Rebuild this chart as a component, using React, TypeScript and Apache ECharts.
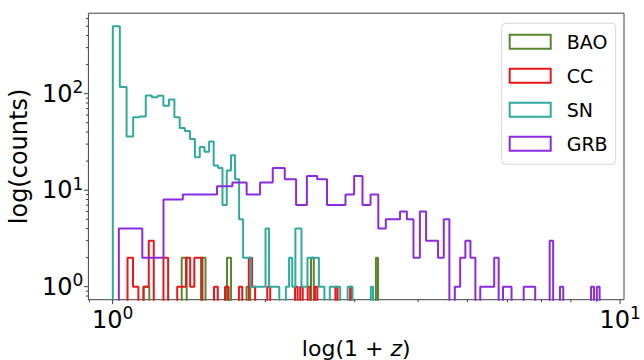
import React, { useEffect, useRef } from 'react';
import * as echarts from 'echarts';

const FONT = "'DejaVu Sans', sans-serif";

const SERIES_NAMES = ['BAO', 'CC', 'SN', 'GRB'];
const SERIES_COLORS = ['#5a8530', '#e8161b', '#2eaa9e', '#8a2be2'];

// histogram ranges in (1+z): first and last bin edge, 70 equal bins each
const BAO_RANGE = [1.15, 3.334];
const CC_RANGE = [1.07, 2.965];
const SN_RANGE = [1.001, 3.26];
const GRB_RANGE = [1.0287, 9.114];

const BAO_COUNTS = [
  1, 0, 0, 0, 0, 0, 0, 2, 0, 0,
  0, 2, 0, 0, 0, 0, 0, 2, 0, 0,
  0, 0, 1, 0, 0, 0, 0, 0, 0, 0,
  0, 0, 0, 0, 0, 0, 0, 0, 0, 0,
  0, 0, 2, 0, 0, 0, 0, 0, 0, 0,
  0, 0, 0, 0, 0, 0, 0, 0, 0, 0,
  0, 0, 0, 0, 0, 0, 0, 0, 0, 2,
];

const CC_COUNTS = [
  2, 1, 0, 1, 3, 0, 0, 2, 0, 0,
  1, 1, 2, 1, 2, 2, 0, 0, 0, 1,
  0, 0, 1, 0, 0, 0, 1, 0, 0, 2,
  1, 0, 0, 0, 0, 1, 0, 0, 0, 0,
  0, 0, 0, 0, 0, 1, 0, 1, 0, 0,
  1, 0, 0, 1, 0, 0, 0, 0, 0, 0,
  0, 0, 1, 0, 0, 0, 0, 0, 0, 1,
];

const SN_COUNTS = [
  500, 117, 36, 57, 58, 96, 92, 95, 75, 87,
  57, 44, 41, 34, 22, 28, 25, 32, 18, 17,
  7, 16, 23, 13, 5, 2, 2, 1, 1, 1,
  1, 4, 1, 1, 1, 0, 0, 1, 2, 1,
  4, 4, 1, 1, 2, 2, 2, 2, 1, 1,
  0, 0, 1, 1, 1, 1, 0, 0, 0, 1,
  1, 0, 0, 0, 0, 0, 0, 0, 0, 1,
];

const GRB_COUNTS = [
  4, 2, 8, 9, 9, 11, 12, 9, 12, 17,
  13, 7, 14, 13, 7, 7, 9, 14, 7, 9,
  4, 5, 5, 6, 5, 2, 6, 3, 3, 2,
  5, 0, 1, 2, 3, 2, 0, 1, 1, 1,
  2, 0, 1, 1, 0, 0, 0, 1, 1, 1,
  0, 0, 0, 0, 3, 0, 0, 1, 0, 0,
  0, 0, 0, 0, 0, 0, 0, 1, 0, 1,
];

const X_MAJOR = [1, 10];
const X_MINOR = [0.9, 2, 3, 4, 5, 6, 7, 8, 9];
const Y_MAJOR = [1, 10, 100];
const Y_MINOR = [0.8, 0.9, 2, 3, 4, 5, 6, 7, 8, 9, 20, 30, 40, 50, 60, 70, 80, 90, 200, 300, 400, 500, 600];

const X_MIN = 0.896;
const X_MAX = 10.18;
const Y_MIN = 0.733;
const Y_MAX = 682;
const FLOOR = 0.05;

function stepPoints(range: number[], counts: number[]) {
  const n = counts.length;
  const w = (range[1] - range[0]) / n;
  const edge = (i: number) => range[0] + w * i;
  const pts: number[][] = [[edge(0), FLOOR]];
  counts.forEach((c, i) => {
    const y = c > 0 ? c : FLOOR;
    pts.push([edge(i), y], [edge(i + 1), y]);
  });
  pts.push([edge(n), FLOOR]);
  return pts;
}

const powLabel = (v: number) => {
  const l = Math.log10(v);
  const r = Math.round(l);
  if (Math.abs(l - r) < 1e-6) return `{b|10}{s|${r}}`;
  return '';
};

const TICK_RICH = {
  b: { fontSize: 24, lineHeight: 30, fontFamily: FONT, color: '#000' },
  s: { fontSize: 17, lineHeight: 14, verticalAlign: 'top', fontFamily: FONT, color: '#000' },
};

export default function App() {
  const ref = useRef<HTMLDivElement>(null);
  useEffect(() => {
    document.body.style.margin = '0';
    const chart = echarts.init(ref.current!, undefined, { renderer: 'svg' });
    const ranges = [BAO_RANGE, CC_RANGE, SN_RANGE, GRB_RANGE];
    const counts = [BAO_COUNTS, CC_COUNTS, SN_COUNTS, GRB_COUNTS];
    const lineSeries = SERIES_NAMES.map((name, k) => ({
      name,
      type: 'line',
      data: stepPoints(ranges[k], counts[k]),
      showSymbol: false,
      symbol: 'none',
      clip: true,
      color: SERIES_COLORS[k],
      itemStyle: { color: SERIES_COLORS[k] },
      lineStyle: { color: SERIES_COLORS[k], width: 2 },
      z: 2 + k,
      silent: true,
    }));
    const tickStyle = { stroke: '#404040', lineWidth: 1 };
    const option = {
      animation: false,
      backgroundColor: '#ffffff',
      textStyle: { fontFamily: FONT },
      grid: {
        left: 88.4,
        top: 13.2,
        width: 535.6,
        height: 286.5,
        show: true,
        borderColor: '#404040',
        borderWidth: 1,
        backgroundColor: 'transparent',
        containLabel: false,
        outerBoundsMode: 'none',
      },
      xAxis: {
        type: 'log',
        logBase: 10,
        min: X_MIN,
        max: X_MAX,
        splitLine: { show: false },
        axisLine: { show: false },
        axisTick: { show: false },
        minorTick: { show: false },
        axisLabel: { formatter: powLabel, margin: 5, rich: TICK_RICH, showMinLabel: true, showMaxLabel: true },
        name: '{a|log(1 + }{i|z}{a|)}',
        nameLocation: 'middle',
        nameGap: 29,
        nameTextStyle: {
          lineHeight: 24,
          rich: {
            a: { fontSize: 22, lineHeight: 24, fontFamily: FONT, color: '#000' },
            i: { fontSize: 22, lineHeight: 24, fontFamily: FONT, fontStyle: 'italic', color: '#000' },
          },
        },
      },
      yAxis: {
        type: 'log',
        logBase: 10,
        min: Y_MIN,
        max: Y_MAX,
        splitLine: { show: false },
        axisLine: { show: false },
        axisTick: { show: false },
        minorTick: { show: false },
        axisLabel: { formatter: powLabel, margin: 5, rich: TICK_RICH },
        name: 'log(counts)',
        nameLocation: 'middle',
        nameGap: 43,
        nameTextStyle: { fontSize: 24, fontFamily: FONT, color: '#000' },
      },
      legend: {
        orient: 'vertical',
        left: 501.7,
        top: 23.3,
        itemWidth: 41,
        itemHeight: 14,
        itemGap: 15,
        padding: [9, 8, 11, 7],
        backgroundColor: 'rgba(255,255,255,0.8)',
        borderColor: '#d6d6d6',
        borderWidth: 1,
        borderRadius: 4,
        icon: 'emptyRect',
        selectedMode: false,
        textStyle: { fontSize: 19, fontFamily: FONT, color: '#000', lineHeight: 14, padding: [0, 0, 0, 11] },
        data: SERIES_NAMES.map((name, k) => ({ name, icon: 'emptyRect', itemStyle: { color: SERIES_COLORS[k] } })),
      },
      series: [
        ...lineSeries,
        {
          type: 'custom',
          coordinateSystem: 'cartesian2d',
          silent: true,
          clip: false,
          z: 10,
          data: [...X_MAJOR.map((v) => [v, Y_MIN, 1]), ...X_MINOR.map((v) => [v, Y_MIN, 0])],
          renderItem: (params: any, api: any) => {
            const p = api.coord([api.value(0), api.value(1)]);
            const len = api.value(2) ? 4.5 : 2.5;
            return { type: 'line', shape: { x1: p[0], y1: p[1], x2: p[0], y2: p[1] + len }, style: tickStyle };
          },
        },
        {
          type: 'custom',
          coordinateSystem: 'cartesian2d',
          silent: true,
          clip: false,
          z: 10,
          data: [...Y_MAJOR.map((v) => [X_MIN, v, 1]), ...Y_MINOR.map((v) => [X_MIN, v, 0])],
          renderItem: (params: any, api: any) => {
            const p = api.coord([api.value(0), api.value(1)]);
            const len = api.value(2) ? 4.5 : 2.5;
            return { type: 'line', shape: { x1: p[0], y1: p[1], x2: p[0] - len, y2: p[1] }, style: tickStyle };
          },
        },
      ],
    };
    chart.setOption(option as any);
    return () => chart.dispose();
  }, []);
  return <div ref={ref} style={{ position: 'fixed', left: 0, top: 0, width: 644, height: 360 }} />;
}
